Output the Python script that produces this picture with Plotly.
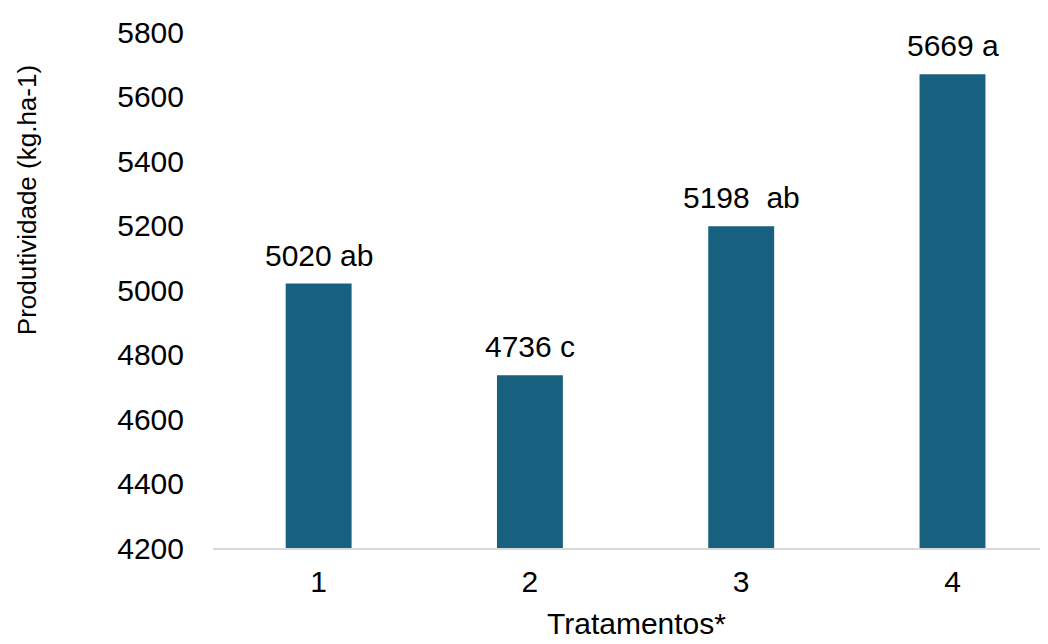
import plotly.graph_objects as go

tratamentos = [1, 2, 3, 4]
produtividade = [5020, 4736, 5198, 5669]
rotulos = ["5020 ab", "4736 c", "5198\u00a0 ab", "5669 a"]
y_ticks = [4200, 4400, 4600, 4800, 5000, 5200, 5400, 5600, 5800]

FONT = "Liberation Sans, Arial, sans-serif"
BAR = "#18607f"

fig = go.Figure()
fig.add_trace(go.Bar(x=tratamentos, y=produtividade, width=0.312,
                     marker=dict(color=BAR, line=dict(width=0)),
                     hoverinfo="skip"))

for xv, yv, t in zip(tratamentos, produtividade, rotulos):
    fig.add_annotation(x=xv, y=yv, text=t, showarrow=False, xanchor="center",
                       yanchor="bottom", yshift=10,
                       font=dict(family=FONT, size=30, color="#000000"))

fig.add_annotation(xref="paper", yref="paper", x=-0.2228, y=0.674,
                   text="Produtividade (kg.ha-1)", textangle=-90, showarrow=False,
                   xanchor="center", yanchor="middle",
                   font=dict(family=FONT, size=26, color="#000000"))
fig.add_annotation(xref="paper", yref="paper", x=0.507, y=-0.147,
                   text="Tratamentos*", showarrow=False,
                   xanchor="center", yanchor="middle",
                   font=dict(family=FONT, size=30, color="#000000"))

fig.update_layout(
    width=1040, height=636,
    margin=dict(l=205, r=0, t=24, b=96),
    paper_bgcolor="white", plot_bgcolor="white",
    showlegend=False,
    font=dict(family=FONT, size=30, color="#000000"),
    xaxis=dict(range=[0.5, 4.452], tickmode="array", tickvals=tratamentos,
               ticktext=[str(t) for t in tratamentos],
               showgrid=False, zeroline=False, showline=True,
               linecolor="#d9d9d9", linewidth=2,
               ticks="outside", ticklen=6, tickcolor="rgba(0,0,0,0)",
               tickfont=dict(family=FONT, size=30, color="#000000")),
    yaxis=dict(range=[4200, 5800], tickmode="array", tickvals=y_ticks,
               showgrid=False, zeroline=False, showline=False,
               ticks="outside", ticklen=22, tickcolor="rgba(0,0,0,0)",
               tickfont=dict(family=FONT, size=30, color="#000000")),
)

fig.write_html("out.html")
